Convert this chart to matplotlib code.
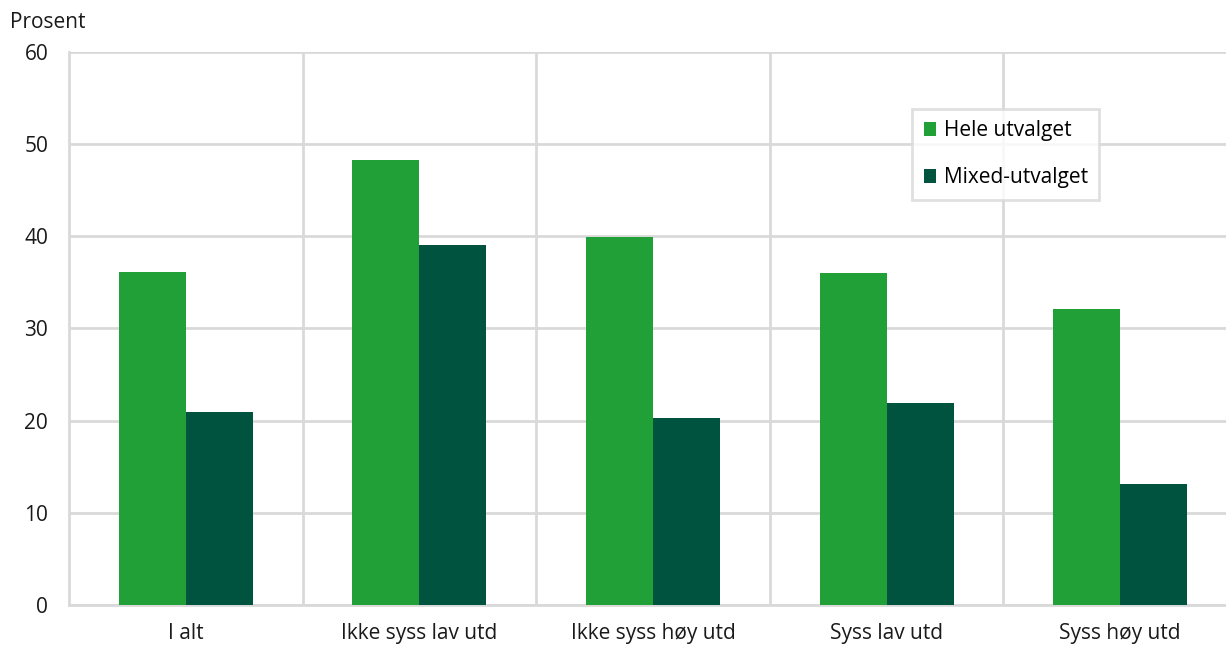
import matplotlib.pyplot as plt
import numpy as np

plt.rcParams['font.family'] = ['Open Sans', 'DejaVu Sans']

# Data
categories = ['I alt', 'Ikke syss lav utd', 'Ikke syss høy utd', 'Syss lav utd', 'Syss høy utd']
hele = [36.1, 48.3, 39.9, 36.0, 32.1]
mixed = [20.9, 39.1, 20.3, 21.9, 13.1]
series_names = ['Hele utvalget', 'Mixed-utvalget']

green = '#21a038'
dark = '#00543f'
grid_col = '#d9d9d9'
fs = 15

fig = plt.figure(figsize=(12.26, 6.48), dpi=100)
ax = fig.add_axes([0.0563, 0.0664, 0.9527, 0.8534])

x = np.arange(len(categories))
w = 0.287
ax.bar(x - w / 2, hele, w, color=green, label=series_names[0], zorder=3)
ax.bar(x + w / 2, mixed, w, color=dark, label=series_names[1], zorder=3)

ax.set_xlim(-0.5, len(categories) - 0.5)
ax.set_ylim(0, 60)
ax.set_yticks(range(0, 61, 10))
ax.set_xticks(x)
ax.set_xticklabels(categories)
ax.set_xticks(np.arange(0.5, len(categories) - 1, 1), minor=True)

ax.grid(axis='y', which='major', color=grid_col, linewidth=2, zorder=0)
ax.grid(axis='x', which='minor', color=grid_col, linewidth=2, zorder=0)
ax.tick_params(axis='both', which='both', length=0, labelsize=fs, colors='#1a1a1a')
ax.tick_params(axis='y', pad=15)
ax.tick_params(axis='x', pad=13)

for s in ['top', 'right']:
    ax.spines[s].set_visible(False)
for s in ['left', 'bottom']:
    ax.spines[s].set_color(grid_col)
    ax.spines[s].set_linewidth(2)

fig.text(0.008, 0.966, 'Prosent', fontsize=fs, color='#1a1a1a', va='center')

leg = ax.legend(loc='upper left', bbox_to_anchor=(0.722, 0.897), fontsize=fs,
                frameon=True, fancybox=False, handlelength=0.6, handleheight=0.6,
                handletextpad=0.35, labelspacing=1.25, borderpad=0.55,
                borderaxespad=0)
leg.get_frame().set_edgecolor(grid_col)
leg.get_frame().set_linewidth(2)

fig.savefig('out.png', dpi=100)
